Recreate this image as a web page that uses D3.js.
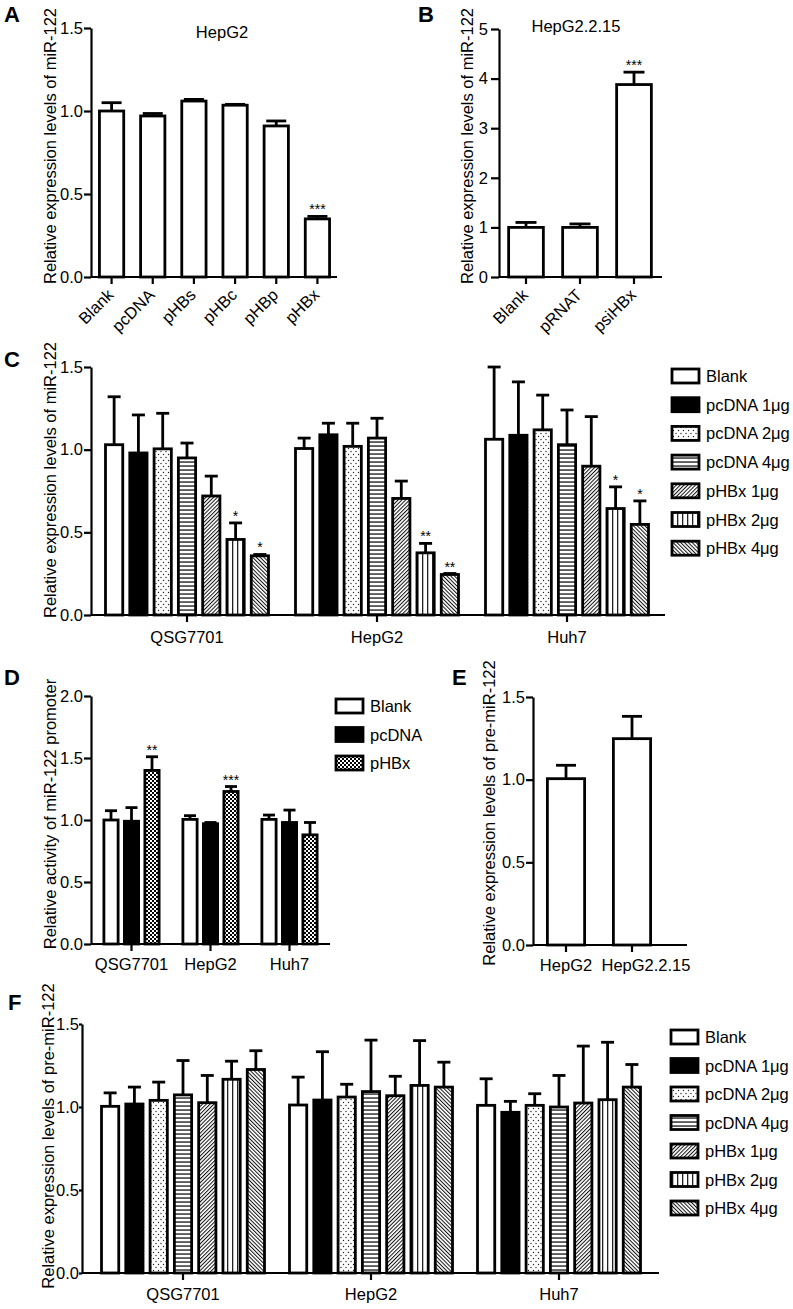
<!DOCTYPE html>
<meta charset="utf-8">
<script src="https://d3js.org/d3.v7.min.js"></script>
<style>
  body { margin: 0; background: #fff; }
  text { font-family: Arial, "Liberation Sans", sans-serif; fill: #000; }
</style>
<div id="fig"></div>
<script>

// ---------- data ----------
// A: HepG2, miR-122
var aCats = ["Blank", "pcDNA", "pHBs", "pHBc", "pHBp", "pHBx"];
var aMeans = [1.0, 0.97, 1.06, 1.035, 0.91, 0.35];
var aErr = [0.05, 0.015, 0.01, 0.005, 0.03, 0.015];
var aStars = ["", "", "", "", "", "***"];

// B: HepG2.2.15, miR-122
var bCats = ["Blank", "pRNAT", "psiHBx"];
var bMeans = [1.0, 1.0, 3.88];
var bErr = [0.1, 0.07, 0.25];
var bStars = ["", "", "***"];

// C: dose series, miR-122
var cells = ["QSG7701", "HepG2", "Huh7"];
var doseSeries = ["Blank", "pcDNA 1μg", "pcDNA 2μg", "pcDNA 4μg", "pHBx 1μg", "pHBx 2μg", "pHBx 4μg"];
var cMeans = [
  [1.03, 0.98, 1.005, 0.95, 0.72, 0.457, 0.358],
  [1.007, 1.09, 1.02, 1.07, 0.705, 0.376, 0.245],
  [1.063, 1.087, 1.12, 1.03, 0.90, 0.644, 0.548]
];
var cErr = [
  [0.29, 0.23, 0.215, 0.09, 0.12, 0.10, 0.008],
  [0.063, 0.07, 0.14, 0.12, 0.105, 0.057, 0.006],
  [0.437, 0.323, 0.21, 0.21, 0.30, 0.131, 0.142]
];
var cStars = [
  ["", "", "", "", "", "*", "*"],
  ["", "", "", "", "", "**", "**"],
  ["", "", "", "", "", "*", "*"]
];

// D: promoter activity
var dSeries = ["Blank", "pcDNA", "pHBx"];
var dMeans = [[1.0, 0.99, 1.40], [1.005, 0.97, 1.23], [1.005, 0.98, 0.88]];
var dErr = [[0.075, 0.11, 0.11], [0.03, 0.01, 0.04], [0.035, 0.10, 0.10]];
var dStars = [["", "", "**"], ["", "", "***"], ["", "", ""]];

// E: pre-miR-122
var eCats = ["HepG2", "HepG2.2.15"];
var eMeans = [1.006, 1.248];
var eErr = [0.081, 0.135];

// F: pre-miR-122, dose series
var fMeans = [
  [1.004, 1.018, 1.04, 1.073, 1.026, 1.167, 1.226],
  [1.012, 1.042, 1.06, 1.093, 1.068, 1.13, 1.12],
  [1.01, 0.968, 1.01, 1.0, 1.024, 1.044, 1.12]
];
var fErr = [
  [0.081, 0.102, 0.11, 0.207, 0.164, 0.109, 0.113],
  [0.168, 0.291, 0.077, 0.31, 0.117, 0.27, 0.15],
  [0.16, 0.066, 0.07, 0.19, 0.343, 0.346, 0.136]
];

// ---------- setup ----------
var svg = d3.select("#fig").append("svg")
  .attr("width", 793)
  .attr("height", 1309);

var BAR_SW = 2.8, AX_SW = 2.2, FS = 16.5;

// fill patterns
var defs = svg.append("defs");
function pattern(id, w, h, rot) {
  var p = defs.append("pattern").attr("id", id)
    .attr("patternUnits", "userSpaceOnUse")
    .attr("width", w).attr("height", h);
  if (rot) p.attr("patternTransform", "rotate(" + rot + ")");
  p.append("rect").attr("width", w).attr("height", h).attr("fill", "#fff");
  return p;
}
var pd = pattern("dots", 5, 6);
pd.append("circle").attr("cx", 1).attr("cy", 1.5).attr("r", 0.7).attr("fill", "#222");
pd.append("circle").attr("cx", 3.5).attr("cy", 4.5).attr("r", 0.7).attr("fill", "#222");
pattern("hlines", 4, 4).append("rect").attr("y", 1.3).attr("width", 4).attr("height", 1.5).attr("fill", "#333");
pattern("fdiag", 2.7, 4, 45).append("rect").attr("x", 0).attr("width", 1).attr("height", 4).attr("fill", "#111");
pattern("vlines", 5, 4).append("rect").attr("x", 2).attr("width", 1.3).attr("height", 4).attr("fill", "#222");
pattern("bdiag", 2.7, 4, -45).append("rect").attr("x", 0).attr("width", 1).attr("height", 4).attr("fill", "#111");
var pc = pattern("checker", 4, 4);
pc.append("rect").attr("width", 2).attr("height", 2).attr("fill", "#000");
pc.append("rect").attr("x", 2).attr("y", 2).attr("width", 2).attr("height", 2).attr("fill", "#000");

var doseFills = ["#fff", "#000", "url(#dots)", "url(#hlines)", "url(#fdiag)", "url(#vlines)", "url(#bdiag)"];
var dFills = ["#fff", "#000", "url(#checker)"];

// ---------- helpers ----------
function yAxis(y, ax, ticks, fmt, tick, pad) {
  var g = svg.append("g")
    .attr("transform", "translate(" + ax + ",0)")
    .call(d3.axisLeft(y).tickValues(ticks).tickFormat(d3.format(fmt))
      .tickSize(tick).tickPadding(pad).tickSizeOuter(0));
  g.selectAll("path, line").attr("stroke", "#000").attr("stroke-width", AX_SW);
  g.selectAll("text").attr("font-size", FS).attr("font-family", "Arial, 'Liberation Sans', sans-serif");
}

function xAxisLine(y, x0, x1, tickXs) {
  svg.append("line").attr("x1", x0).attr("x2", x1)
    .attr("y1", y(0)).attr("y2", y(0))
    .attr("stroke", "#000").attr("stroke-width", AX_SW);
  svg.selectAll(null).data(tickXs).enter().append("line")
    .attr("x1", function(d) { return d; }).attr("x2", function(d) { return d; })
    .attr("y1", y(0)).attr("y2", y(0) + 7)
    .attr("stroke", "#000").attr("stroke-width", AX_SW);
}

function yLabel(txt, x, yc) {
  svg.append("text").attr("transform", "translate(" + x + "," + yc + ") rotate(-90)")
    .attr("text-anchor", "middle").attr("font-size", FS).text(txt);
}

function panelLetter(txt, x, y) {
  svg.append("text").attr("x", x).attr("y", y)
    .attr("font-size", 22).attr("font-weight", "bold").text(txt);
}

// items: {x, w, v, e, fill, star}
function drawBars(items, y, capW) {
  svg.selectAll(null).data(items).enter().append("line")
    .attr("x1", function(d) { return d.x + d.w / 2; })
    .attr("x2", function(d) { return d.x + d.w / 2; })
    .attr("y1", function(d) { return y(d.v); })
    .attr("y2", function(d) { return y(d.v + d.e); })
    .attr("stroke", "#000").attr("stroke-width", BAR_SW);
  svg.selectAll(null).data(items).enter().append("line")
    .attr("x1", function(d) { return d.x + d.w / 2 - capW / 2; })
    .attr("x2", function(d) { return d.x + d.w / 2 + capW / 2; })
    .attr("y1", function(d) { return y(d.v + d.e); })
    .attr("y2", function(d) { return y(d.v + d.e); })
    .attr("stroke", "#000").attr("stroke-width", BAR_SW);
  svg.selectAll(null).data(items).enter().append("rect")
    .attr("x", function(d) { return d.x; })
    .attr("y", function(d) { return y(d.v); })
    .attr("width", function(d) { return d.w; })
    .attr("height", function(d) { return y(0) - y(d.v); })
    .attr("fill", function(d) { return d.fill; })
    .attr("stroke", "#000").attr("stroke-width", BAR_SW);
  svg.selectAll(null).data(items.filter(function(d) { return d.star; })).enter().append("text")
    .attr("x", function(d) { return d.x + d.w / 2; })
    .attr("y", function(d) { return y(d.v + d.e) - 2; })
    .attr("text-anchor", "middle").attr("font-size", 14)
    .text(function(d) { return d.star; });
}

function legend(names, fills, x, y0, step) {
  var g = svg.append("g");
  g.selectAll(null).data(names).enter().append("rect")
    .attr("x", x).attr("y", function(d, i) { return y0 + i * step - 7; })
    .attr("width", 27).attr("height", 14)
    .attr("fill", function(d, i) { return fills[i]; })
    .attr("stroke", "#000").attr("stroke-width", BAR_SW);
  g.selectAll(null).data(names).enter().append("text")
    .attr("x", x + 34).attr("y", function(d, i) { return y0 + i * step + 6; })
    .attr("font-size", FS).text(function(d) { return d; });
}

function simplePanel(cats, means, errs, stars, opt) {
  var x = d3.scaleBand().domain(cats).range(opt.range)
    .paddingInner(opt.pad).paddingOuter(opt.pad / 2);
  var y = d3.scaleLinear().domain([0, opt.max]).range(opt.yr);
  var items = cats.map(function(c, i) {
    return { x: x(c), w: x.bandwidth(), v: means[i], e: errs[i], fill: "#fff", star: stars ? stars[i] : "" };
  });
  drawBars(items, y, opt.cap);
  yAxis(y, opt.ax, opt.ticks, opt.fmt, opt.tick, opt.tpad);
  var centers = cats.map(function(c) { return x(c) + x.bandwidth() / 2; });
  xAxisLine(y, opt.ax, opt.axEnd, centers);
  return { x: x, y: y, centers: centers };
}

function groupedPanel(groups, series, means, errs, stars, fills, opt) {
  var gx = d3.scaleBand().domain(groups).range(opt.range);
  var ix = d3.scaleBand().domain(series).range([-opt.inner, opt.inner]).paddingInner(opt.pad);
  var y = d3.scaleLinear().domain([0, opt.max]).range(opt.yr);
  var items = [];
  groups.forEach(function(g, gi) {
    var c = gx(g) + gx.bandwidth() / 2;
    series.forEach(function(s, si) {
      items.push({ x: c + ix(s), w: ix.bandwidth(), v: means[gi][si], e: errs[gi][si],
        fill: fills[si], star: stars ? stars[gi][si] : "" });
    });
  });
  drawBars(items, y, opt.cap);
  yAxis(y, opt.ax, opt.ticks, opt.fmt, opt.tick, opt.tpad);
  var centers = groups.map(function(g) { return gx(g) + gx.bandwidth() / 2; });
  xAxisLine(y, opt.ax, opt.axEnd, centers);
  svg.selectAll(null).data(groups).enter().append("text")
    .attr("x", function(d, i) { return centers[i]; })
    .attr("y", opt.labY).attr("text-anchor", "middle").attr("font-size", FS)
    .text(function(d) { return d; });
  return y;
}

function rotLabels(cats, centers, yBase) {
  svg.selectAll(null).data(cats).enter().append("text")
    .attr("transform", function(d, i) { return "translate(" + (centers[i] + 3) + "," + (yBase + 19) + ") rotate(-45)"; })
    .attr("text-anchor", "end").attr("font-size", FS)
    .text(function(d) { return d; });
}

// ---------- panel A ----------
var pa = simplePanel(aCats, aMeans, aErr, aStars, {
  range: [91, 338], pad: 0.41, max: 1.5, yr: [277, 28], cap: 20,
  ax: 91, axEnd: 337, ticks: [0, 0.5, 1, 1.5], fmt: ".1f", tick: 7, tpad: 1
});
rotLabels(aCats, pa.centers, 277);
svg.append("text").attr("x", 222).attr("y", 38).attr("text-anchor", "middle").attr("font-size", FS).text("HepG2");
yLabel("Relative expression levels of miR-122", 56, 146);
panelLetter("A", 4, 22);

// ---------- panel B ----------
var pb = simplePanel(bCats, bMeans, bErr, bStars, {
  range: [499, 661], pad: 0.357, max: 5, yr: [277, 29], cap: 21,
  ax: 499, axEnd: 662, ticks: [0, 1, 2, 3, 4, 5], fmt: "d", tick: 8, tpad: 3
});
rotLabels(bCats, pb.centers, 277);
svg.append("text").attr("x", 576).attr("y", 32).attr("text-anchor", "middle").attr("font-size", FS).text("HepG2.2.15");
yLabel("Relative expression levels of miR-122", 473, 146);
panelLetter("B", 418, 22);

// ---------- panel C ----------
groupedPanel(cells, doseSeries, cMeans, cErr, cStars, doseFills, {
  range: [92, 662], inner: 81.5, pad: 0.29, max: 1.5, yr: [615, 367], cap: 13,
  ax: 91, axEnd: 665, ticks: [0, 0.5, 1, 1.5], fmt: ".1f", tick: 7, tpad: 1, labY: 643
});
legend(doseSeries, doseFills, 672, 376, 28.7);
yLabel("Relative expression levels of miR-122", 56, 480);
panelLetter("C", 4, 367);

// ---------- panel D ----------
groupedPanel(cells, dSeries, dMeans, dErr, dStars, dFills, {
  range: [92, 329], inner: 27.6, pad: 0.307, max: 2, yr: [944, 696], cap: 12,
  ax: 91, axEnd: 330, ticks: [0, 0.5, 1, 1.5, 2], fmt: ".1f", tick: 7, tpad: 1, labY: 970
});
legend(dSeries, dFills, 336, 706, 28.5);
yLabel("Relative activity of miR-122 promoter", 56, 814);
panelLetter("D", 4, 685);

// ---------- panel E ----------
var pe = simplePanel(eCats, eMeans, eErr, null, {
  range: [533, 665], pad: 0.436, max: 1.5, yr: [945, 697], cap: 20,
  ax: 533, axEnd: 687, ticks: [0, 0.5, 1, 1.5], fmt: ".1f", tick: 7, tpad: 1
});
// the long label sits a little right of its tick in the original
var eLabShift = [0, 14];
svg.selectAll(null).data(eCats).enter().append("text")
  .attr("x", function(d, i) { return pe.centers[i] + eLabShift[i]; }).attr("y", 971)
  .attr("text-anchor", "middle").attr("font-size", FS).text(function(d) { return d; });
yLabel("Relative expression levels of pre-miR-122", 495, 813);
panelLetter("E", 452, 685);

// ---------- panel F ----------
groupedPanel(cells, doseSeries, fMeans, fErr, null, doseFills, {
  range: [89, 653], inner: 81.5, pad: 0.29, max: 1.5, yr: [1273, 1024], cap: 13,
  ax: 82, axEnd: 659, ticks: [0, 0.5, 1, 1.5], fmt: ".1f", tick: 3, tpad: 0, labY: 1300
});
legend(doseSeries, doseFills, 671, 1037, 28.5);
yLabel("Relative expression levels of pre-miR-122", 54, 1136);
panelLetter("F", 8, 1010);

</script>
